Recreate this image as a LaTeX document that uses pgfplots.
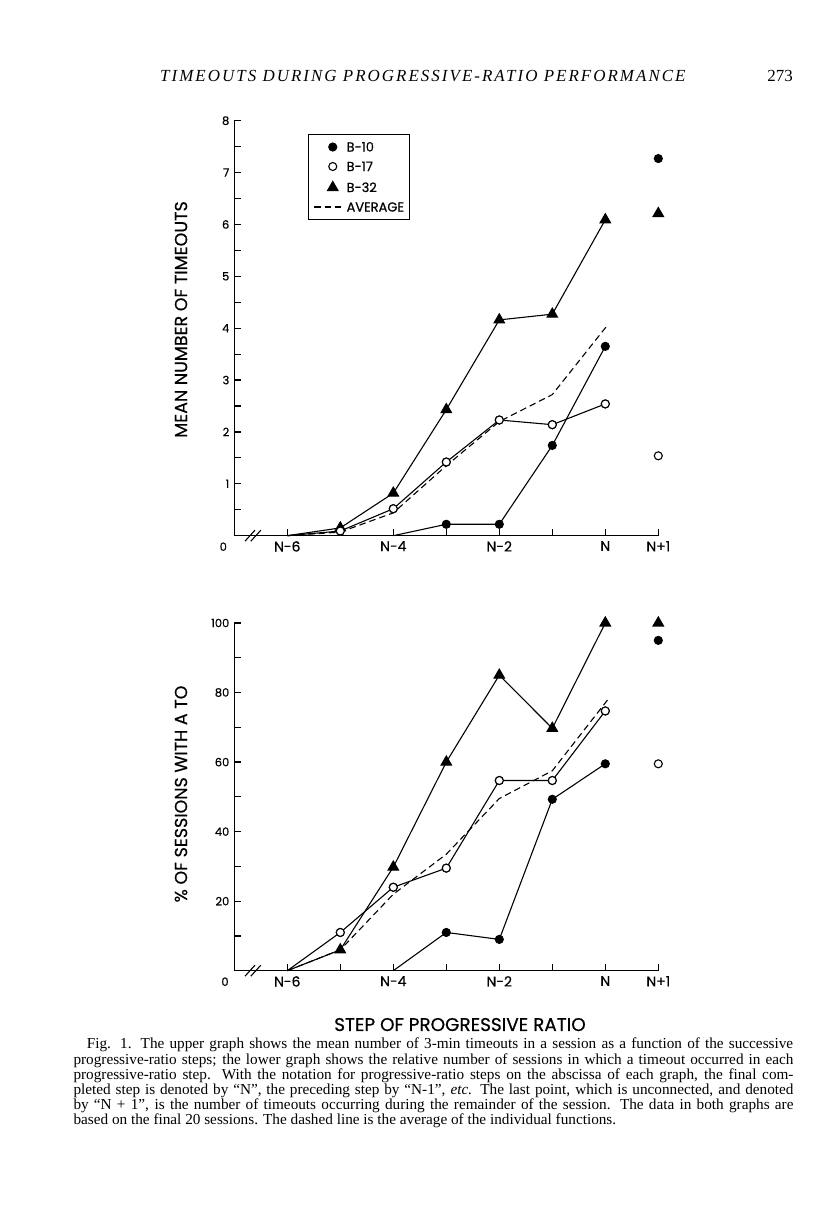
\documentclass[border=0pt]{standalone}
\usepackage{fontspec}
\setmainfont{Liberation Serif}
\newfontfamily\chartfont[FakeBold=0.5]{Poppins}
\usepackage{pgfplots}
\pgfplotsset{compat=1.18}

\pgfplotsset{
  prax/.style={
    scale only axis, width=424bp, anchor=south west,
    xmin=-1, xmax=7, clip=false,
    axis lines=left, axis line style={-, line width=1.2bp, black},
    tick align=inside, major tick length=7bp, minor tick length=7bp,
    every tick/.append style={black, line width=1.2bp},
    xtick={0,1,2,3,4,5,6,7},
    xticklabels={N-6,,N-4,,N-2,,N,N+1},
    xticklabel style={font=\chartfont\fontsize{14}{14}\selectfont, yshift=-2bp},
    yticklabel style={font=\chartfont\fontsize{11.5}{11.5}\selectfont, xshift=-1.5bp},
    /pgf/number format/assume math mode=true,
  },
  markleg/.style={legend image code/.code={\path[draw=none,fill=none] (0bp,0bp) -- (27bp,0bp); \draw[##1,mark phase=1] plot coordinates {(18.7bp,0bp)};}},
  avgleg/.style={legend image code/.code={\draw[##1] (0bp,0bp) -- (27bp,0bp);}},
  b10/.style={black, line width=1.1bp, solid, mark=*, mark size=4bp, mark options={solid, fill=black}, markleg},
  b17/.style={black, line width=1.1bp, solid, mark=*, mark size=4bp, mark options={solid, fill=white, line width=1.1bp}, markleg},
  b32/.style={black, line width=1.1bp, solid, mark=triangle*, mark size=6bp, mark options={solid, fill=black}, markleg},
  avg/.style={black, line width=1.1bp, dash pattern=on 6.5bp off 4bp, no markers, avgleg},
}

\begin{document}
\begin{tikzpicture}
\path[use as bounding box, fill=white] (0bp,0bp) rectangle (816bp,1207bp);

% page header
\node[anchor=base west, inner sep=0pt, font=\fontsize{17}{17}\selectfont\itshape\addfontfeatures{LetterSpace=12}] at (160bp,1125.3bp) {TIMEOUTS DURING PROGRESSIVE-RATIO PERFORMANCE};
\node[anchor=base east, inner sep=0pt, font=\fontsize{17}{17}\selectfont] at (793bp,1125.3bp) {273};

% ---------------- upper graph ----------------
\begin{axis}[prax, at={(234.3bp,671.3bp)}, height=415bp,
  ymin=0, ymax=8, ytick={0,1,...,8}, yticklabels={,1,2,3,4,5,6,7,8}, minor y tick num=1,
  legend style={at={(axis cs:0.39,7.744)}, anchor=north west, draw=black, line width=1.1bp,
    fill=white, inner xsep=5bp, inner ysep=8bp, row sep=10.5bp, column sep=5bp,
    font=\chartfont\fontsize{13}{13}\selectfont,
    nodes={inner sep=0pt, text height=9bp, text depth=0bp}},
  legend cell align=left]
\addplot[b10, mark phase=2] coordinates {(2,0) (3,0.22) (4,0.22) (5,1.74) (6,3.65)};
\addplot[b17, mark phase=2] coordinates {(0,0) (1,0.09) (2,0.52) (3,1.42) (4,2.23) (5,2.14) (6,2.54)};
\addplot[b32, mark phase=2] coordinates {(0,0) (1,0.15) (2,0.82) (3,2.43) (4,4.16) (5,4.27) (6,6.09)};
\addplot[avg] coordinates {(0,0) (1,0.07) (2,0.44) (3,1.35) (4,2.2) (5,2.72) (6.05,4.07)};
\addplot[b17, only marks, mark phase=2, forget plot] coordinates {(0,0) (1,0.09) (2,0.52) (3,1.42) (4,2.23) (5,2.14) (6,2.54)};
\addplot[b10, only marks, forget plot] coordinates {(7,7.27)};
\addplot[b17, only marks, forget plot] coordinates {(7,1.54)};
\addplot[b32, only marks, forget plot] coordinates {(7,6.21)};
\legend{B-10,B-17,B-32,AVERAGE}
\draw[line width=1.1bp] (axis cs:-0.704,0) ++(-5bp,-5.5bp) -- ++(10bp,11bp);
\draw[line width=1.1bp] (axis cs:-0.594,0) ++(-5bp,-5.5bp) -- ++(10bp,11bp);
\end{axis}
\node[font=\chartfont\fontsize{11.5}{11.5}\selectfont] at (223.3bp,660.3bp) {0};
\node[rotate=90, font=\chartfont\fontsize{17.5}{17.5}\selectfont] at (181bp,887.5bp) {MEAN NUMBER OF TIMEOUTS};

% ---------------- lower graph ----------------
\begin{axis}[prax, at={(234.3bp,236.3bp)}, height=347.7bp,
  ymin=0, ymax=100, ytick={0,20,...,100}, yticklabels={,20,40,60,80,100}, minor y tick num=1]
\addplot[b10, mark phase=2] coordinates {(2,0) (3,11) (4,9) (5,49.3) (6,59.5)};
\addplot[b17, mark phase=2] coordinates {(0,0) (1,11) (2,24) (3,29.5) (4,54.7) (5,54.7) (6,74.7)};
\addplot[b32, mark phase=2] coordinates {(0,0) (1,6) (2,29.8) (3,60) (4,85) (5,69.7) (6,100)};
\addplot[avg] coordinates {(0,0) (1,6) (2,22) (3,33.5) (4,49.5) (5,57.5) (6.05,78)};
\addplot[b17, only marks, mark phase=2, forget plot] coordinates {(0,0) (1,11) (2,24) (3,29.5) (4,54.7) (5,54.7) (6,74.7)};
\addplot[b10, only marks, forget plot] coordinates {(7,95)};
\addplot[b17, only marks, forget plot] coordinates {(7,59.5)};
\addplot[b32, only marks, forget plot] coordinates {(7,100)};
\draw[line width=1.1bp] (axis cs:-0.704,0) ++(-5bp,-5.5bp) -- ++(10bp,11bp);
\draw[line width=1.1bp] (axis cs:-0.594,0) ++(-5bp,-5.5bp) -- ++(10bp,11bp);
\end{axis}
\node[font=\chartfont\fontsize{11.5}{11.5}\selectfont] at (225bp,225.3bp) {0};
\node[rotate=90, font=\chartfont\fontsize{17.5}{17.5}\selectfont] at (181bp,413bp) {\% OF SESSIONS WITH A TO};

% x label
\node[anchor=base, inner sep=0pt, font=\chartfont\fontsize{18.5}{18.5}\selectfont] at (460bp,176bp) {STEP OF PROGRESSIVE RATIO};

% caption
\begin{scope}[every node/.style={anchor=base west, inner sep=0pt, font=\fontsize{15.3}{15.2}\selectfont}]
\node at (86.7bp,158bp) {\makebox[706.3bp][s]{Fig. 1. The upper graph shows the mean number of 3-min timeouts in a session as a function of the successive}};
\node at (73.3bp,142.8bp) {\makebox[720bp][s]{progressive-ratio steps; the lower graph shows the relative number of sessions in which a timeout occurred in each}};
\node at (73.3bp,127.6bp) {\makebox[720bp][s]{progressive-ratio step. With the notation for progressive-ratio steps on the abscissa of each graph, the final com-}};
\node at (73.3bp,112.4bp) {\makebox[720bp][s]{pleted step is denoted by “N”, the preceding step by “N-1”, \textit{etc.} The last point, which is unconnected, and denoted}};
\node at (73.3bp,97.2bp) {\makebox[720bp][s]{by “N + 1”, is the number of timeouts occurring during the remainder of the session. The data in both graphs are}};
\node at (73.3bp,82bp) {based on the final 20 sessions. The dashed line is the average of the individual functions.};
\end{scope}
\end{tikzpicture}
\end{document}
